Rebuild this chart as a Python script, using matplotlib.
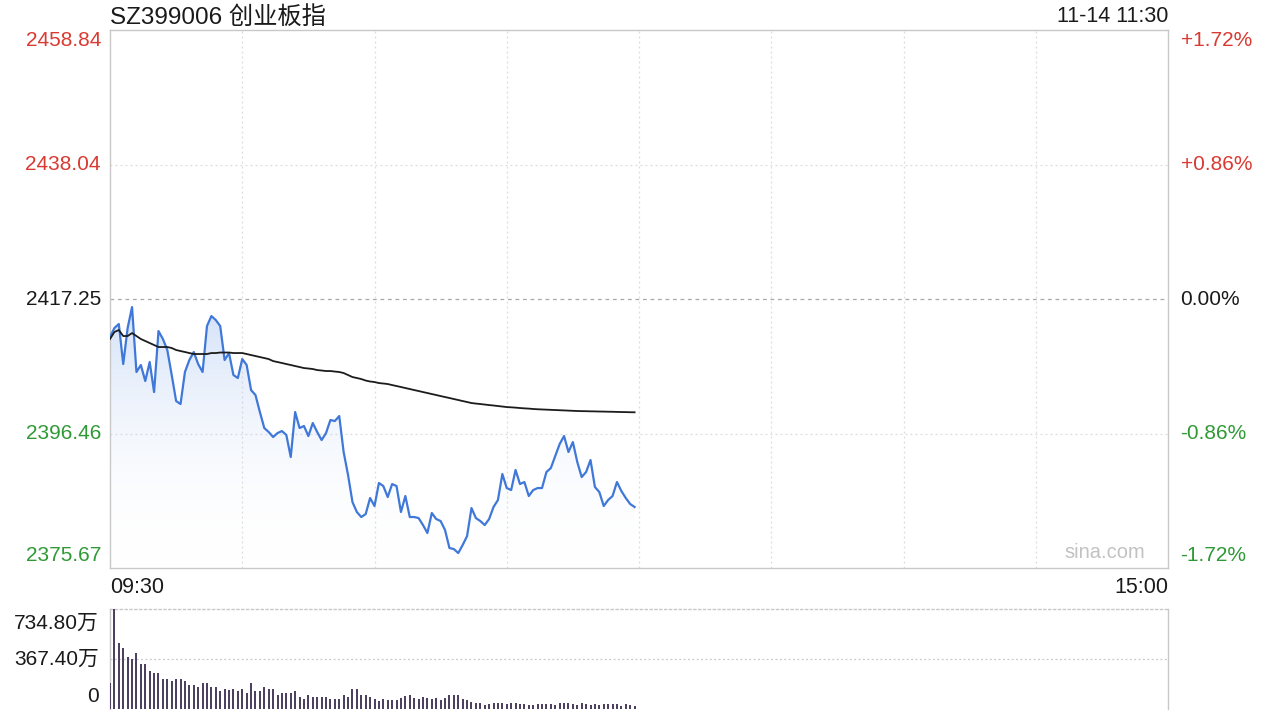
import matplotlib
matplotlib.use("Agg")
import matplotlib.pyplot as plt
import numpy as np
from matplotlib.colors import LinearSegmentedColormap

plt.rcParams['font.family'] = ['Liberation Sans', 'Noto Sans CJK SC', 'DejaVu Sans']

# ---------------- data ----------------
title_text = "SZ399006 创业板指"
stamp_text = "11-14 11:30"
prev_close = 2417.25
y_ticks = [2458.84, 2438.04, 2417.25, 2396.46, 2375.67]
y_tick_labels = ["2458.84", "2438.04", "2417.25", "2396.46", "2375.67"]
pct_labels = ["+1.72%", "+0.86%", "0.00%", "-0.86%", "-1.72%"]
label_colors = ["#d93a32", "#d93a32", "#1a1a1a", "#2f9a35", "#2f9a35"]
x_labels = ["09:30", "15:00"]
vol_ticks = [0, 367.40, 734.80]
vol_tick_labels = ["0", "367.40万", "734.80万"]

price = [2411.38, 2412.77, 2413.39, 2407.20, 2412.77, 2416.01, 2405.97, 2407.05, 2404.57, 2407.51,
         2402.87, 2412.30, 2411.07, 2409.37, 2405.50, 2401.48, 2401.02, 2405.97, 2407.82, 2409.06,
         2407.20, 2405.97, 2413.08, 2414.62, 2414.00, 2413.08, 2407.82, 2408.90, 2405.50, 2405.04,
         2407.97, 2407.05, 2403.18, 2402.41, 2399.78, 2397.31, 2396.69, 2395.92, 2396.53, 2396.84,
         2396.23, 2392.83, 2399.78, 2397.31, 2397.62, 2396.07, 2398.08, 2396.69, 2395.45, 2396.53,
         2398.55, 2398.39, 2399.16, 2393.60, 2390.04, 2385.87, 2384.32, 2383.55, 2384.01, 2386.49,
         2385.25, 2388.81, 2388.34, 2386.64, 2388.65, 2388.34, 2384.32, 2386.80, 2383.55, 2383.55,
         2383.39, 2382.31, 2381.08, 2384.17, 2383.24, 2382.93, 2381.54, 2378.76, 2378.60, 2377.98,
         2379.22, 2380.61, 2384.94, 2383.39, 2382.93, 2382.31, 2383.24, 2385.10, 2386.18, 2390.20,
         2388.03, 2387.72, 2390.82, 2388.65, 2388.96, 2386.80, 2387.72, 2388.03, 2388.03, 2390.51,
         2391.12, 2392.98, 2394.83, 2396.07, 2393.60, 2395.14, 2392.05, 2389.73, 2390.51, 2392.36,
         2388.19, 2387.41, 2385.25, 2386.18, 2386.80, 2388.96, 2387.57, 2386.49, 2385.56, 2385.10]

avg_price = [2411.07, 2412.15, 2412.46, 2411.53, 2411.53, 2411.99, 2411.53, 2411.07, 2410.76, 2410.45,
             2410.14, 2409.83, 2409.83, 2409.83, 2409.68, 2409.37, 2409.21, 2409.06, 2408.90, 2408.75,
             2408.75, 2408.75, 2408.75, 2408.90, 2408.90, 2408.98, 2408.98, 2408.98, 2408.90, 2408.90,
             2408.90, 2408.75, 2408.59, 2408.44, 2408.28, 2408.13, 2407.97, 2407.66, 2407.51, 2407.36,
             2407.20, 2407.05, 2406.89, 2406.74, 2406.58, 2406.51, 2406.43, 2406.27, 2406.20, 2406.12,
             2406.12, 2406.04, 2405.97, 2405.81, 2405.50, 2405.19, 2405.04, 2404.88, 2404.65, 2404.50,
             2404.42, 2404.26, 2404.19, 2404.11, 2403.95, 2403.80, 2403.65, 2403.49, 2403.34, 2403.18,
             2403.03, 2402.87, 2402.72, 2402.56, 2402.41, 2402.25, 2402.10, 2401.95, 2401.79, 2401.64,
             2401.48, 2401.33, 2401.17, 2401.09, 2401.02, 2400.94, 2400.86, 2400.79, 2400.71, 2400.63,
             2400.55, 2400.51, 2400.46, 2400.40, 2400.35, 2400.31, 2400.25, 2400.21, 2400.18, 2400.15,
             2400.12, 2400.09, 2400.06, 2400.03, 2400.00, 2399.97, 2399.94, 2399.92, 2399.91, 2399.89,
             2399.88, 2399.86, 2399.85, 2399.83, 2399.82, 2399.80, 2399.78, 2399.77, 2399.75, 2399.74]

volume = [190, 734.8, 487, 445, 383, 371, 413, 327, 327, 282,
          265, 265, 223, 223, 208, 223, 223, 208, 178, 178,
          163, 190, 190, 163, 163, 134, 146, 139, 148, 134,
          148, 116, 190, 134, 134, 163, 148, 148, 104, 119,
          119, 119, 134, 89, 74, 104, 89, 89, 89, 89,
          74, 74, 74, 104, 89, 148, 148, 104, 104, 89,
          74, 59, 72, 64, 64, 64, 84, 96, 104, 84,
          72, 89, 84, 72, 84, 64, 84, 101, 101, 101,
          72, 64, 54, 47, 47, 30, 40, 47, 47, 47,
          40, 47, 47, 40, 35, 27, 30, 35, 35, 35,
          35, 30, 47, 47, 47, 35, 30, 47, 40, 27,
          35, 30, 35, 35, 40, 35, 22, 35, 27, 22]

minutes = np.arange(len(price))
total_minutes = 240

# ---------------- figure ----------------
fig = plt.figure(figsize=(12.8, 7.2), dpi=100)
fig.patch.set_facecolor("white")

ax = fig.add_axes([110/1280, 1-568/720, 1058/1280, 538/720])
axv = fig.add_axes([110/1280, 1-709/720, 1058/1280, 100/720])

ymin, ymax = y_ticks[-1], y_ticks[0]
ax.set_xlim(0, total_minutes)
ax.set_ylim(ymin, ymax)

# grid
grid_c = "#dcdcdc"
for gx in range(30, total_minutes, 30):
    ax.axvline(gx, color=grid_c, lw=0.9, ls=(0, (1.5, 2.5)), zorder=1)
for gy in [y_ticks[1], y_ticks[3]]:
    ax.axhline(gy, color=grid_c, lw=0.9, ls=(0, (1.5, 2.5)), zorder=1)
ax.axhline(prev_close, color="#a8a8a8", lw=0.9, ls=(0, (3, 3)), zorder=1)

# gradient fill under price line
poly = ax.fill_between(minutes, price, ymin, color="none", lw=0)
cmap = LinearSegmentedColormap.from_list("g", [(1, 1, 1, 0.0), (0.55, 0.70, 0.93, 0.38)])
grad = np.linspace(0, 1, 256).reshape(-1, 1)
im = ax.imshow(grad, cmap=cmap, aspect="auto", origin="lower",
               extent=[0, minutes[-1], ymin, max(price)], zorder=2)
im.set_clip_path(poly.get_paths()[0], transform=ax.transData)

ax.plot(minutes, price, color="#3f78d8", lw=1.6, zorder=4, solid_joinstyle="round")
ax.plot(minutes, avg_price, color="#1c1c1c", lw=1.3, zorder=5)

ax.set_xticks([])
ax.set_yticks([])
for sp in ax.spines.values():
    sp.set_color("#c8c8c8")
    sp.set_linewidth(1.0)

fs = 15
offsets = [-7.5, 0, 0, 0, 9]
for val, lab, pl, col, off in zip(y_ticks, y_tick_labels, pct_labels, label_colors, offsets):
    ax.annotate(lab, xy=(0, val), xycoords=ax.get_yaxis_transform(),
                xytext=(-6.5, off), textcoords="offset points",
                ha="right", va="center", fontsize=fs, color=col)
    ax.annotate(pl, xy=(1, val), xycoords=ax.get_yaxis_transform(),
                xytext=(9, off), textcoords="offset points",
                ha="left", va="center", fontsize=fs, color=col)

# header texts
ax.text(0, 1.002, title_text, transform=ax.transAxes, ha="left", va="bottom",
        fontsize=17.5, color="#1a1a1a")
ax.text(1, 1.005, stamp_text, transform=ax.transAxes, ha="right", va="bottom",
        fontsize=15.5, color="#1a1a1a")
ax.text(0, -0.016, x_labels[0], transform=ax.transAxes, ha="left", va="top",
        fontsize=15.5, color="#1a1a1a")
ax.text(1, -0.016, x_labels[1], transform=ax.transAxes, ha="right", va="top",
        fontsize=15.5, color="#1a1a1a")
ax.text(0.978, 0.012, "sina.com", transform=ax.transAxes, ha="right", va="bottom",
        fontsize=14.5, color="#c2c2c2")

# ---------------- volume panel ----------------
axv.set_xlim(0, total_minutes)
axv.set_ylim(0, vol_ticks[-1])
axv.axhline(vol_ticks[1], color="#c8c8c8", lw=0.9, ls=(0, (1.5, 2.0)), zorder=1)
axv.vlines(minutes, 0, volume, color="#4a3c5c", lw=1.4, zorder=3)
axv.set_xticks([])
axv.set_yticks([])
for name, sp in axv.spines.items():
    sp.set_color("#c8c8c8")
    sp.set_linewidth(1.0)
axv.spines["top"].set_linestyle((0, (1.5, 2.0)))
axv.spines["bottom"].set_visible(False)

for val, lab, off in zip(vol_ticks, vol_tick_labels, [9, 0, -10]):
    axv.annotate(lab, xy=(0, val), xycoords=axv.get_yaxis_transform(),
                 xytext=(-8, off), textcoords="offset points",
                 ha="right", va="center", fontsize=15, color="#1a1a1a")

fig.savefig("out.png", dpi=100, facecolor="white")
